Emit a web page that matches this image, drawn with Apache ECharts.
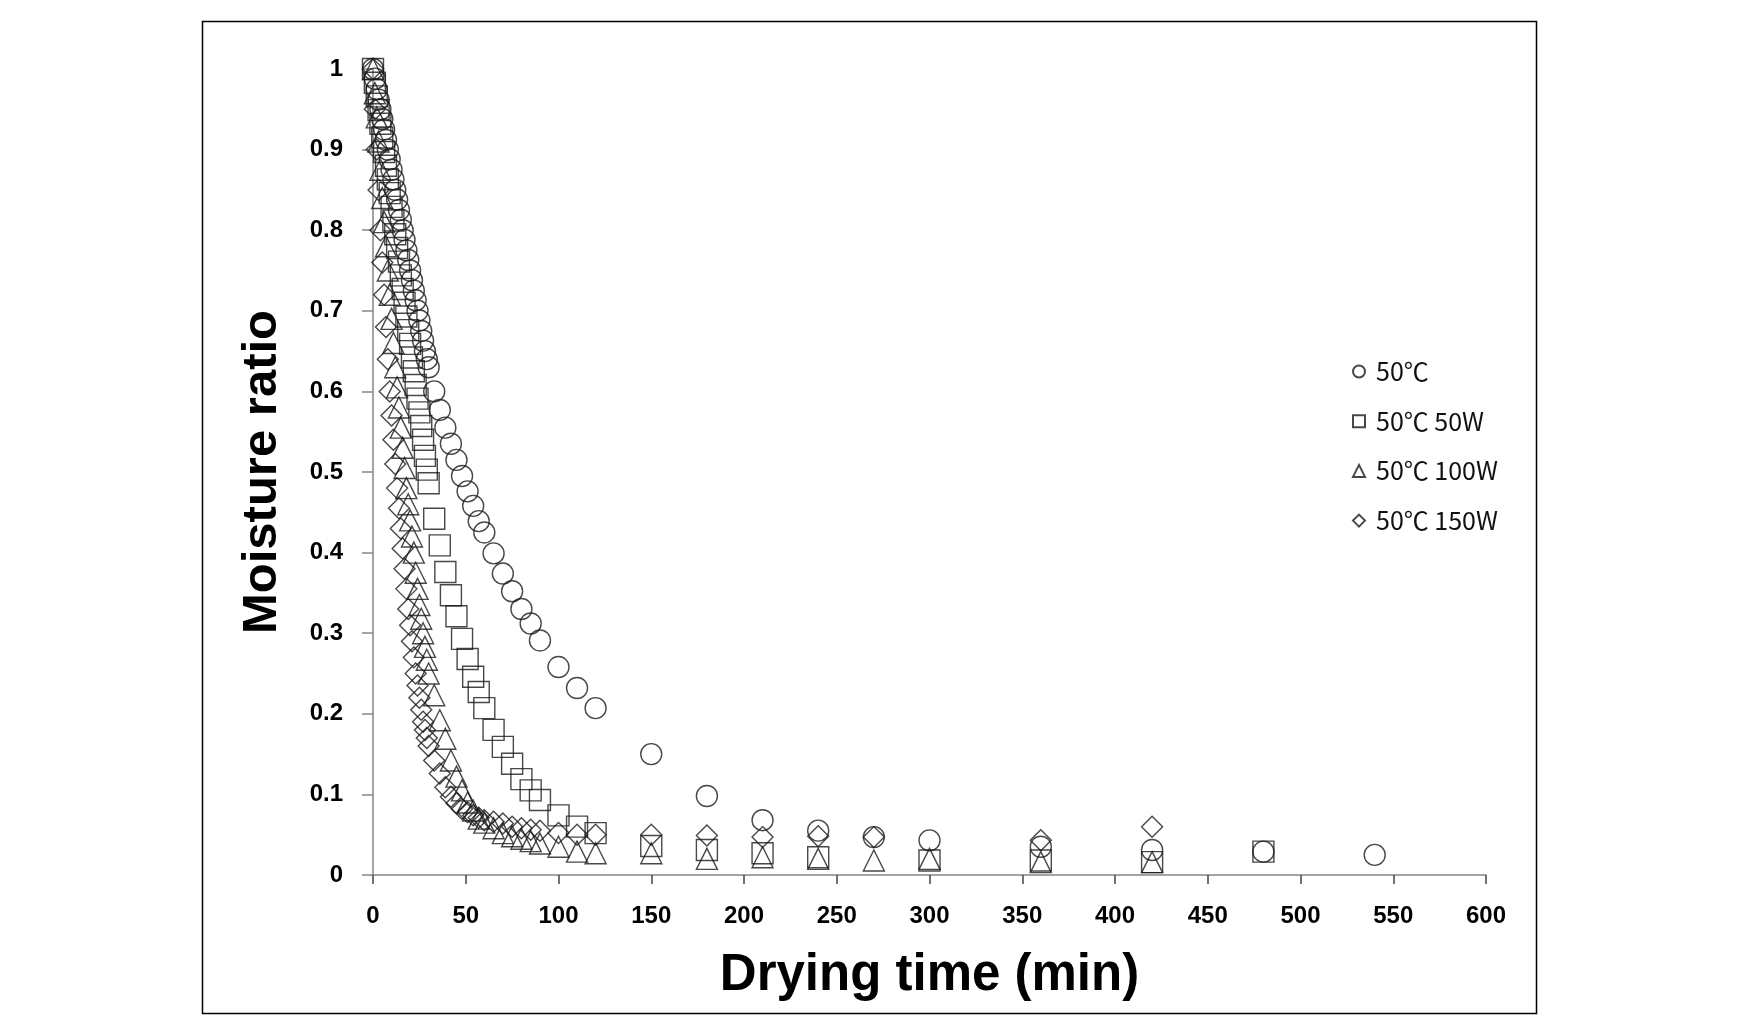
<!DOCTYPE html>
<html><head><meta charset="utf-8">
<script src="https://cdn.jsdelivr.net/npm/echarts@6/dist/echarts.min.js"></script>
<style>html,body{margin:0;padding:0;background:#fff}#c{width:1740px;height:1028px}</style>
</head><body><div id="c"></div>
<script>
// ---- data ----
var seriesNames = ['50℃', '50℃ 50W', '50℃ 100W', '50℃ 150W'];
var xTicks = [0,50,100,150,200,250,300,350,400,450,500,550,600];

var timeA = [0,1,2,3,4,5,6,7,8,9,10,11,12,13,14,15,16,17,18,19,20,21,22,23,24,25,26,27,28,29,30,33,36,39,42,45,48,51,54,57,60,65,70,75,80,85,90,100,110,120,150,180,210,240,270,300,360,420,480,540];
var mrA = [1.000,0.988,0.975,0.962,0.950,0.938,0.925,0.912,0.900,0.888,0.875,0.863,0.850,0.838,0.825,0.813,0.800,0.788,0.775,0.763,0.750,0.738,0.725,0.713,0.700,0.688,0.675,0.663,0.650,0.640,0.630,
  0.600,0.577,0.555,0.535,0.515,0.495,0.476,0.458,0.439,0.425,
  0.399,0.374,0.352,0.330,0.312,0.291,
  0.258,0.232,0.207,
  0.150,0.098,0.068,0.055,0.047,0.043,0.035,0.031,0.029,0.025];

var timeB = [0,1,2,3,4,5,6,7,8,9,10,11,12,13,14,15,16,17,18,19,20,21,22,23,24,25,26,27,28,29,30,33,36,39,42,45,48,51,54,57,60,65,70,75,80,85,90,100,110,120,150,180,210,240,300,360,420,480];
var mrB = [1.000,0.983,0.966,0.949,0.932,0.915,0.897,0.880,0.863,0.846,0.829,0.812,0.795,0.778,0.761,0.744,0.727,0.710,0.693,0.676,0.659,0.642,0.625,0.608,0.591,0.574,0.557,0.540,0.520,0.503,0.486,
  0.442,0.409,0.376,0.347,0.321,0.293,0.268,0.246,0.227,0.207,
  0.180,0.159,0.138,0.119,0.105,0.093,
  0.074,0.060,0.052,
  0.036,0.031,0.027,0.022,0.018,0.018,0.016,0.029];

var timeC = [0,1,2,3,4,5,6,7,8,9,10,11,12,13,14,15,16,17,18,19,20,21,22,23,24,25,26,27,28,29,30,33,36,39,42,45,48,51,54,57,60,65,70,75,80,85,90,100,110,120,150,180,210,240,270,300,360,420];
var mrC = [1.000,0.970,0.940,0.910,0.875,0.840,0.810,0.780,0.750,0.720,0.690,0.660,0.630,0.605,0.580,0.555,0.530,0.505,0.480,0.460,0.440,0.420,0.400,0.375,0.355,0.335,0.318,0.300,0.283,0.267,0.250,
  0.223,0.192,0.169,0.142,0.122,0.105,0.090,0.080,0.070,0.065,
  0.058,0.052,0.048,0.045,0.042,0.039,
  0.035,0.029,0.027,
  0.027,0.020,0.022,0.020,0.018,0.020,0.016,0.016];

var timeD = [0,1,2,3,4,5,6,7,8,9,10,11,12,13,14,15,16,17,18,19,20,21,22,23,24,25,26,27,28,29,30,33,36,39,42,45,48,51,54,57,60,65,70,75,80,85,90,100,110,120,150,180,210,240,270,360,420];
var mrD = [1.000,0.950,0.900,0.850,0.800,0.760,0.720,0.680,0.640,0.600,0.570,0.540,0.510,0.480,0.455,0.430,0.405,0.380,0.355,0.330,0.310,0.290,0.270,0.250,0.235,0.220,0.205,0.190,0.180,0.170,0.160,
  0.142,0.126,0.109,0.097,0.089,0.082,0.078,0.074,0.071,0.068,
  0.066,0.064,0.060,0.058,0.056,0.055,
  0.052,0.050,0.050,
  0.050,0.049,0.047,0.048,0.047,0.043,0.060];

function pairs(t, v) { return t.map(function (x, i) { return [x, v[i]]; }); }

var symbols = ['circle', 'rect', 'triangle', 'diamond'];
var allData = [pairs(timeA, mrA), pairs(timeB, mrB), pairs(timeC, mrC), pairs(timeD, mrD)];

var chart = echarts.init(document.getElementById('c'), null, {renderer: 'canvas'});
var tickFont = {fontFamily: '"Liberation Sans", Arial, sans-serif', fontWeight: 'bold', fontSize: 24, color: '#000'};

var option = {
  animation: false,
  backgroundColor: '#fff',
  grid: {left: 373, right: 254, top: 69, bottom: 153},
  graphic: [{
    type: 'rect', silent: true,
    shape: {x: 202.5, y: 21.5, width: 1334, height: 992},
    style: {fill: 'none', stroke: '#000', lineWidth: 1.5}
  }],
  legend: {
    orient: 'vertical', left: 1347, top: 354,
    itemWidth: 12, itemHeight: 12, itemGap: 24.7,
    data: seriesNames,
    textStyle: {fontFamily: '"Noto Sans CJK KR", "Noto Sans", sans-serif', fontSize: 25, lineHeight: 24, color: '#111', padding: [0,0,0,6]}
  },
  xAxis: {
    type: 'value', min: 0, max: 600, interval: 50,
    axisLine: {show: true, lineStyle: {color: '#868686', width: 1.5}},
    axisTick: {show: true, length: 9, lineStyle: {color: '#444', width: 1.5}},
    axisLabel: Object.assign({margin: 29}, tickFont),
    splitLine: {show: false},
    name: 'Drying time (min)', nameLocation: 'middle', nameGap: 75,
    nameTextStyle: {fontFamily: '"Liberation Sans", Arial, sans-serif', fontWeight: 'bold', fontSize: 51, color: '#000'}
  },
  yAxis: {
    type: 'value', min: 0, max: 1, interval: 0.1,
    axisLine: {show: true, lineStyle: {color: '#868686', width: 1.5}},
    axisTick: {show: true, length: 11, lineStyle: {color: '#868686', width: 1.5}},
    axisLabel: Object.assign({margin: 30}, tickFont),
    splitLine: {show: false},
    name: 'Moisture ratio', nameLocation: 'middle', nameGap: 86,
    nameTextStyle: {fontFamily: '"Liberation Sans", Arial, sans-serif', fontWeight: 'bold', fontSize: 49, color: '#000'}
  },
  series: seriesNames.map(function (n, i) {
    return {
      name: n, type: 'scatter', symbol: symbols[i], symbolSize: 21,
      data: allData[i],
      itemStyle: {color: 'rgba(0,0,0,0)', borderColor: '#1a1a1a', borderWidth: 1.4},
      emphasis: {disabled: true}
    };
  })
};
chart.setOption(option);
</script></body></html>
